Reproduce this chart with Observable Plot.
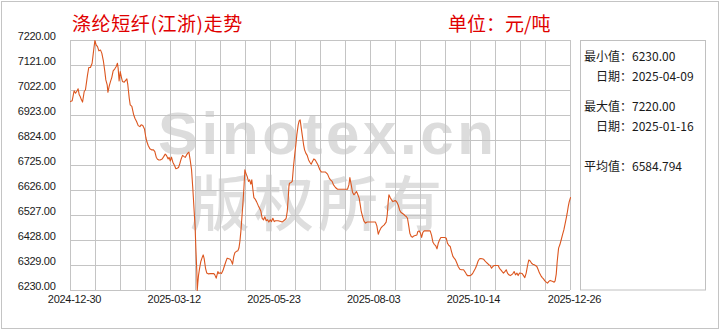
<!DOCTYPE html>
<html><head><meta charset="utf-8">
<script src="https://cdn.jsdelivr.net/npm/d3@7"></script>
<script src="https://cdn.jsdelivr.net/npm/@observablehq/plot@0.6"></script>
<style>
html,body{margin:0;padding:0;background:#fff;}
#chart{width:720px;height:330px;}
</style></head><body><div id="chart"></div>
<script>
const titleText = "涤纶短纤(江浙)走势";
const unitText = "单位：元/吨";
const watermark1 = "Sinotex.cn";
const watermark2 = "版权所有";
const xTickDays = [0, 72, 144, 216, 288, 361];
const xTickLabels = ["2024-12-30", "2025-03-12", "2025-05-23", "2025-08-03", "2025-10-14", "2025-12-26"];
const yTicks = [6230, 6329, 6428, 6527, 6626, 6725, 6824, 6923, 7022, 7121, 7220];
const statLines = ["最小值：6230.00", "日期：2025-04-09", "最大值：7220.00", "日期：2025-01-16", "平均值：6584.794"];

// day offset from 2024-12-30, and price (元/吨)
const days = [
  0,1.2,2.6,3.6,4.8,5.5,6.3,7.0,7.9,8.7,
  9.9,10.8,11.8,12.3,13.2,14.4,15.6,16.6,17.6,18.5,
  19.5,20.5,21.7,22.6,23.8,24.8,25.5,26.5,27.0,27.9,
  28.9,29.8,30.8,32.0,33.0,33.9,34.4,35.1,35.9,36.8,
  37.5,38.8,39.5,40.7,41.4,42.4,43.1,44.3,45.5,46.5,
  47.7,48.9,50.1,51.0,52.2,53.4,54.4,55.1,56.1,57.3,
  58.5,59.9,60.9,61.9,62.8,63.8,64.7,66.2,67.4,68.4,
  69.3,70.5,71.2,72.0,72.9,73.9,75.1,76.1,77.0,78.0,
  78.9,79.9,80.9,81.8,82.8,83.8,84.7,85.5,86.4,87.4,
  88.3,89.3,90.0,90.5,91.2,91.5,91.9,92.4,93.2,94.1,
  95.1,95.8,96.5,97.5,98.4,99.4,100.9,102.3,103.5,104.2,
  105.2,106.4,107.1,108.1,109.0,110.0,111.0,112.2,113.1,114.3,
  115.3,116.3,117.0,117.9,118.7,119.6,120.8,121.6,122.3,123.0,
  123.7,124.4,125.2,125.9,126.6,127.6,128.5,129.3,130.2,130.9,
  131.7,132.4,133.3,134.3,135.5,136.5,137.4,138.4,139.4,140.3,
  141.3,142.3,143.2,144.2,145.1,146.1,147.1,148.0,149.9,151.9,
  152.8,154.8,155.7,156.5,157.2,157.7,158.1,159.3,160.1,161.0,
  162.0,162.7,163.4,164.4,165.1,165.8,166.3,167.3,168.3,169.0,
  169.9,170.9,171.9,172.8,173.8,174.7,175.7,176.7,177.6,178.6,179.6,
  180.0,181.2,184.1,185.6,186.8,187.7,188.9,189.9,191.3,192.8,
  200.0,201.0,201.7,202.7,203.6,204.6,205.5,206.5,207.5,208.4,
  209.2,209.9,210.9,211.8,213.0,214.2,220.2,221.2,222.2,223.1,
  224.1,225.0,226.5,227.9,228.7,229.4,229.9,230.8,231.8,232.8,
  233.7,234.7,235.6,236.6,237.6,238.5,239.5,240.5,241.4,242.4,
  243.3,244.3,245.0,246.0,247.0,247.9,248.9,250.1,250.8,251.8,
  252.7,253.5,254.4,255.4,259.7,260.7,261.7,262.6,263.6,264.6,
  265.5,266.5,267.4,270.3,271.3,272.2,273.2,274.2,275.1,276.1,
  277.0,278.0,279.0,279.9,281.1,282.3,283.8,284.7,285.7,286.6,
  288.6,289.5,290.5,291.4,292.4,293.4,294.3,295.3,296.2,297.2,
  298.2,299.2,300.1,301.1,302.0,303.0,304.0,304.9,305.9,308.8,
  309.7,310.7,311.7,312.6,313.6,314.6,315.5,316.5,317.5,318.4,
  319.4,320.3,321.3,322.3,323.2,324.2,326.1,327.1,328.0,329.0,
  330.0,330.9,331.9,332.9,333.8,334.8,335.7,336.7,337.7,338.6,
  339.6,340.6,341.5,342.5,343.5,344.4,345.4,346.3,347.3,348.3,
  349.2,349.9,350.7,351.4,352.4,353.3,354.3,355.2,356.2,357.2,
  357.9,358.6,359.4,360.1,361
];
const prices = [
  6978,6981,7021,7011,7021,7029,7005,6998,6985,6976,
  7018,7025,7064,7084,7113,7113,7130,7176,7220,7203,
  7196,7179,7182,7170,7137,7097,7064,7044,7015,7038,
  7058,7073,7100,7108,7117,7130,7110,7060,7097,7073,
  7058,7055,7060,7068,7044,6992,6965,6959,6928,6912,
  6899,6883,6879,6886,6883,6870,6836,6820,6804,6791,
  6787,6787,6780,6758,6750,6747,6747,6751,6761,6770,
  6765,6751,6757,6743,6758,6738,6725,6712,6714,6717,
  6732,6751,6765,6761,6757,6767,6774,6778,6747,6708,
  6635,6543,6477,6398,6305,6230,6259,6289,6318,6345,
  6361,6371,6356,6318,6299,6296,6297,6297,6297,6292,
  6279,6305,6297,6300,6297,6308,6325,6345,6358,6356,
  6354,6345,6334,6365,6380,6384,6387,6398,6424,6464,
  6516,6569,6635,6708,6695,6681,6662,6668,6651,6668,
  6629,6598,6592,6582,6567,6556,6545,6516,6510,6522,
  6506,6510,6501,6510,6503,6516,6503,6506,6506,6503,
  6501,6510,6516,6543,6596,6642,6655,6658,6662,6721,
  6774,6807,6846,6886,6902,6906,6886,6846,6807,6787,
  6774,6765,6747,6738,6730,6741,6751,6747,6738,6728,6714,
  6708,6699,6699,6691,6675,6668,6662,6648,6638,6631,
  6631,6648,6677,6648,6619,6609,6615,6622,6609,6596,
  6569,6543,6523,6506,6497,6501,6501,6486,6453,6466,
  6477,6483,6490,6501,6530,6582,6609,6598,6589,6582,
  6585,6586,6580,6569,6549,6540,6536,6532,6527,6523,
  6516,6483,6457,6444,6441,6446,6448,6450,6464,6466,
  6457,6440,6460,6466,6466,6448,6421,6413,6408,6395,
  6417,6431,6440,6440,6437,6417,6408,6404,6384,6365,
  6358,6351,6338,6325,6314,6312,6312,6305,6296,6289,
  6289,6292,6299,6308,6318,6332,6347,6356,6357,6356,
  6354,6347,6342,6337,6332,6329,6318,6325,6329,6329,
  6318,6312,6305,6299,6305,6312,6299,6292,6289,6292,
  6297,6305,6292,6299,6289,6299,6297,6289,6281,6299,
  6329,6351,6347,6338,6334,6332,6329,6325,6312,6299,
  6289,6281,6276,6268,6263,6259,6266,6270,6268,6266,
  6263,6268,6295,6345,6398,6411,6431,6450,6470,6497,
  6516,6536,6563,6582,6598
];
const n = Math.min(days.length, prices.length);
const data = d3.range(n).map(i => ({day: days[i], price: prices[i]}));

const gridDays = d3.range(21).map(i => i * 361 / 20);

const chart = Plot.plot({
  width: 720, height: 330,
  marginLeft: 70, marginRight: 150, marginTop: 40, marginBottom: 40,
  style: {background: "#fff", fontFamily: "'Liberation Sans', Arial, sans-serif", fontSize: "11px", color: "#1a1a1a"},
  x: {type: "linear", domain: [0, 361]},
  y: {domain: [6230, 7220]},
  marks: [
    Plot.gridX(gridDays, {stroke: "#c4c4c4", strokeOpacity: 1}),
    Plot.gridY(yTicks, {stroke: "#c4c4c4", strokeOpacity: 1}),
    Plot.line(data, {x: "day", y: "price", stroke: "#dc561f", strokeWidth: 1.1}),
    Plot.axisX(xTickDays, {tickSize: 0, tickPadding: 5, dx: 4, label: null,
      tickFormat: d => xTickLabels[xTickDays.indexOf(d)]}),
    Plot.axisY(yTicks, {tickSize: 0, tickPadding: 15, dy: -4, label: null,
      tickFormat: d => d.toFixed(2)})
  ]
});
document.getElementById("chart").appendChild(chart);

const svg = d3.select(chart);
svg.selectAll("[aria-label='x-axis tick label'] text, [aria-label='y-axis tick label'] text").attr("letter-spacing", "-0.3");

// watermark behind everything
const wm = svg.insert("g", "g").attr("class", "watermark").attr("text-anchor", "start");
wm.append("text").attr("x", 158).attr("y", 154)
  .attr("font-family", "'Liberation Sans', Arial, sans-serif").attr("font-weight", "bold")
  .attr("font-size", 60).attr("letter-spacing", 3.6).attr("fill", "#dcdcdc").text(watermark1);
wm.append("text").attr("x", 190).attr("y", 226)
  .attr("font-family", "'Noto Sans CJK SC', sans-serif").attr("font-weight", 500)
  .attr("font-size", 60).attr("letter-spacing", 4).attr("fill", "#dedede").text(watermark2);

// outer border
svg.append("rect").attr("x", 1.5).attr("y", 1.5).attr("width", 717).attr("height", 327)
  .attr("fill", "none").attr("stroke", "#c4c4c4");

const deco = svg.append("g").attr("text-anchor", "start");
// title & unit
deco.append("text").attr("x", 72).attr("y", 31)
  .attr("font-family", "'Noto Sans CJK SC', sans-serif").attr("font-size", 19)
  .attr("letter-spacing", 0.6).attr("fill", "#e00000").text(titleText);
deco.append("text").attr("x", 448).attr("y", 31)
  .attr("font-family", "'Noto Sans CJK SC', sans-serif").attr("font-size", 19)
  .attr("fill", "#e00000").text(unitText);

// statistics panel
deco.append("rect").attr("x", 580.5).attr("y", 40.5).attr("width", 125).attr("height", 249.5)
  .attr("fill", "none").attr("stroke", "#c0c0c0");
const statPos = [[584, 60.5], [596, 80.5], [584, 110.5], [596, 130.5], [584, 170.5]];
statLines.forEach((t, i) => {
  deco.append("text").attr("x", statPos[i][0]).attr("y", statPos[i][1])
    .attr("font-family", "'Noto Sans CJK SC', sans-serif").attr("font-size", 12)
    .attr("fill", "#1a1a1a").text(t);
});
</script>
</body></html>
